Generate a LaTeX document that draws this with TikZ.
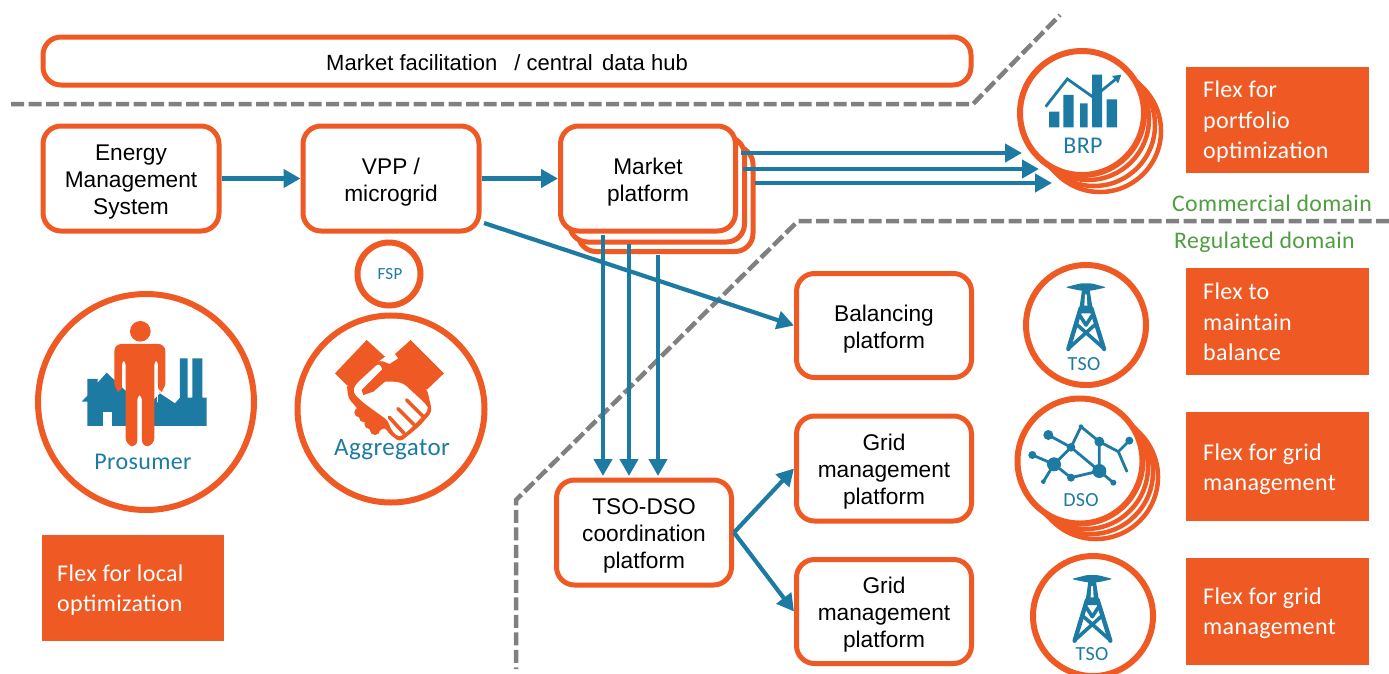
\documentclass[tikz,border=0pt]{standalone}
\usepackage{fontspec}
\setmainfont{Liberation Sans}
\newfontfamily\carl[LetterSpace=1.5]{Carlito}
\usetikzlibrary{arrows.meta}
\definecolor{org}{HTML}{EF5A24}
\definecolor{blu}{HTML}{1D7BA3}
\definecolor{grn}{HTML}{4F9E3F}
\definecolor{gry}{HTML}{808080}
\newcommand{\boxtext}[1]{\vbox{\kern7.6pt\hbox{\begin{tabular}{@{}c@{}}#1\end{tabular}}}}
\tikzset{
  rbox/.style={draw=org,line width=5pt,fill=white,rounded corners=18pt,inner sep=0pt,align=center,
    font=\fontsize{22.7}{27}\selectfont,text=black},
  flexbox/.style={fill=org,inner sep=0pt,text=white},
  flextext/.style={text=white,inner sep=0pt,align=left,anchor=west,font=\carl\fontsize{24}{30.5}\selectfont},
  ring/.style={circle,draw=org,fill=white,line width=6pt,inner sep=0pt},
  backring/.style={ring,line width=4.5pt},
  iconlabel/.style={text=blu,inner sep=0pt,font=\carl\fontsize{#1}{#1}\selectfont},
  domlabel/.style={text=grn,inner sep=0pt,font=\carl\fontsize{23.8}{26}\selectfont},
  divider/.style={draw=gry,line width=4.5pt,dash pattern=on 13pt off 4.5pt},
  flow/.style={draw=blu,line width=4.2pt,-{Triangle[length=17pt,width=18pt]}},
  zoomed/.style={x=0.3333pt,y=-0.3333pt},
}
\newcommand{\tsotower}{%
  \fill[blu,rounded corners=2.5pt] (45,37) -- (92,25) -- (124,25) -- (170,37) -- (124,47) -- (92,47) -- cycle;
  \fill[blu] (96,45) -- (119,45) -- (130,115) -- (86,115) -- cycle;
  \fill[white] (105,58) -- (110,58) -- (112,92) -- (103,92) -- cycle;
  \draw[blu,line width=4.4pt,line cap=round,line join=round]
     (92,100) -- (55,222) (124,100) -- (162,222);
  \draw[blu,line width=3.6pt,line cap=round,line join=round]
     (58,218) -- (134,150) (159,218) -- (82,150) (90,122) -- (108,150) -- (126,122);
}
\begin{document}
\begin{tikzpicture}[x=1pt,y=-1pt]
\useasboundingbox (0,0) rectangle (1389,673);
\fill[white] (0,0) rectangle (1389,673);

% dividers
\coordinate (d1a) at (11,104); \coordinate (d1b) at (973,104); \coordinate (d1c) at (1060,15);
\draw[divider] (d1a) -- (d1b) -- (d1c);
\coordinate (d2a) at (1389,221); \coordinate (d2b) at (798,221); \coordinate (d2c) at (516,500); \coordinate (d2d) at (516,669);
\draw[divider] (d2a) -- (d2b) -- (d2c) -- (d2d);

% boxes
\node[rbox,minimum width=928pt,minimum height=48pt,font=\fontsize{22}{27}\selectfont] (hub) at (507,61)
  {\vbox{\kern2.4pt\hbox{Market facilitation\hspace{0.5em} / central\hspace{0.15em} data hub}}};
\node[rbox,minimum width=176pt,minimum height=105pt] (ems) at (131,178.5) {\boxtext{Energy\\Management\\System}};
\node[rbox,minimum width=176pt,minimum height=105pt] (vpp) at (391,178.5) {\boxtext{VPP /\\microgrid}};
\node[rbox,minimum width=175pt,minimum height=105pt] (mp3) at (665.5,199) {};
\node[rbox,minimum width=175pt,minimum height=105pt] (mp2) at (657,189.5) {};
\node[rbox,minimum width=175pt,minimum height=105pt] (mp) at (648,178.5) {\boxtext{Market\\platform}};
\node[rbox,minimum width=175pt,minimum height=104pt] (bal) at (884,325.5) {\boxtext{Balancing\\platform}};
\node[rbox,minimum width=175pt,minimum height=105pt] (grid1) at (884,468.5) {\boxtext{Grid\\management\\platform}};
\node[rbox,minimum width=175pt,minimum height=104pt] (grid2) at (884,611.5) {\boxtext{Grid\\management\\platform}};
\node[rbox,minimum width=175pt,minimum height=105pt] (tsodso) at (644,532.5) {\boxtext{TSO-DSO\\coordination\\platform}};

% flex boxes
\node[flexbox,minimum width=183pt,minimum height=106pt] (fx1) at (1277.5,120) {};
\node[flextext] (fx1t) at (1203,122) {Flex for\\portfolio\\optimization};
\node[flexbox,minimum width=183pt,minimum height=107pt] (fx2) at (1277.5,321.5) {};
\node[flextext] (fx2t) at (1203,322) {Flex to\\maintain\\balance};
\node[flexbox,minimum width=183pt,minimum height=109pt] (fx3) at (1277.5,466.5) {};
\node[flextext] (fx3t) at (1203,469) {Flex for grid\\management};
\node[flexbox,minimum width=183pt,minimum height=107pt] (fx4) at (1277.5,611.5) {};
\node[flextext] (fx4t) at (1203,613) {Flex for grid\\management};
\node[flexbox,minimum width=182pt,minimum height=106pt] (fx5) at (133,588) {};
\node[flextext] (fx5t) at (57,590) {Flex for local\\optimization};

% domains
\node[domlabel,anchor=west] (comm) at (1172,203) {Commercial domain};
\node[domlabel,anchor=west] (reg) at (1174,242) {Regulated domain};

% rings
\node[ring,minimum size=216pt] (pros) at (146,402) {};
\node[ring,minimum size=187pt] (agg) at (391,409) {};
\node[ring,minimum size=63pt] (fsp) at (389,274) {};
\node[backring,minimum size=122pt] (brp3) at (1100,131) {};
\node[backring,minimum size=122pt] (brp2) at (1094,125) {};
\node[backring,minimum size=122pt] (brp1) at (1088,119) {};
\node[ring,minimum size=124pt] (brp) at (1082,113) {};
\node[ring,minimum size=120pt] (tso1) at (1086,325) {};
\node[backring,minimum size=124pt] (dso3) at (1096,477) {};
\node[backring,minimum size=124pt] (dso2) at (1091,472) {};
\node[backring,minimum size=124pt] (dso1) at (1086,467) {};
\node[ring,minimum size=125pt] (dso) at (1080,461) {};
\node[ring,minimum size=120pt] (tso2) at (1093,616) {};

% BRP icon
\begin{scope}[shift={(980,0)},zoomed]
  \fill[blu] (207,335) rectangle (238,382) (250,285) rectangle (281,382)
             (300,310) rectangle (323,382) (336,224) rectangle (366,382)
             (380,298) rectangle (411,382);
  \draw[blu,line width=2.8pt,-{Triangle[length=8pt,width=9pt]}] (197,320) -- (262,237) -- (340,292) -- (424,224);
\end{scope}

% Prosumer icon
\begin{scope}[shift={(20,230)},zoomed]
  \fill[blu] (202,588) -- (202,515) -- (185,515) -- (202,497) -- (202,447) -- (233,447) -- (233,458)
     -- (260,428) -- (330,495) -- (330,588) -- cycle;
  \fill[white] (250,545) rectangle (277,588);
  \fill[blu] (395,588) -- (395,515) -- (420,490) -- (465,520) -- (480,503) -- (480,385) -- (503,385)
     -- (503,503) -- (517,503) -- (517,385) -- (547,385) -- (547,503) -- (560,503) -- (560,588) -- cycle;
  \fill[org] (361,304) circle[radius=31];
  \draw[white,line width=1.5pt,line cap=round] (412,395) -- (412,515);
  \fill[org,rounded corners=7pt] (283,480) -- (283,342) -- (436,342) -- (436,480) -- (414,490) -- (414,385) -- (403,385)
     -- (403,645) -- (366,652) -- (366,490) -- (352,490) -- (352,652) -- (317,645) -- (317,385) -- (306,385) -- (306,490) -- cycle;
\end{scope}

% Aggregator icon
\begin{scope}[shift={(320,330)},zoomed]
  \fill[org,rounded corners=4pt] (80,160) -- (85,205) -- (112,235) -- (160,318) -- (195,290) -- (205,310) -- (240,336)
     -- (270,312) -- (300,287) -- (336,245) -- (330,215) -- (320,175) -- (250,120) -- (180,90) -- cycle;
  \foreach \kx/\ky in {118/247,132/262,148/282,165/300}
    \fill[org] (\kx,\ky) circle[radius=15];
  \fill[white,rounded corners=4pt] (178,98) -- (105,165) -- (99,188) -- (130,218) -- (205,272) -- (212,297) -- (236,323)
     -- (265,302) -- (326,240) -- (320,225) -- (250,160) -- (200,150) -- cycle;
  \draw[org,line width=3.6pt,line cap=round] (208,262) -- (252,310) (234,236) -- (282,284) (260,210) -- (310,260);
  \fill[org] (45,130) -- (140,30) -- (195,80) -- (175,95) -- (100,163) -- (80,165) -- cycle;
  \fill[org] (272,30) -- (372,130) -- (322,178) -- (250,155) -- (195,155) -- (160,185) -- (130,195) -- (125,180)
     -- (195,110) -- (215,98) -- (235,85) -- (225,72) -- cycle;
\end{scope}

% Tower icons
\begin{scope}[shift={(1050,275)},zoomed] \tsotower \end{scope}
\begin{scope}[shift={(1056.3,566.7)},zoomed] \tsotower \end{scope}

% DSO icon
\begin{scope}[shift={(1000,255)},zoomed]
  \draw[blu,line width=2.8pt,line join=round]
    (145,540) -- (213,577) -- (243,515) -- (298,560) -- (355,590) -- (380,648)
    (355,590) -- (388,557) (298,560) -- (298,648) -- (213,577) -- (162,628) -- (97,600)
    (162,628) -- (130,680) (162,628) -- (213,668) -- (298,648) -- (340,683);
  \foreach \px/\py/\pr in {145/540/15,97/600/12,162/628/21,130/680/7,213/577/13,243/515/7,298/560/15,
     388/557/12,380/648/5,298/648/21,213/668/12,340/683/9}
    \fill[blu] (\px,\py) circle[radius=\pr];
\end{scope}

% icon labels
\node[iconlabel=24] (brpl) at (1083,146) {BRP};
\node[iconlabel=20] (tso1l) at (1084,364) {TSO};
\node[iconlabel=20] (dsol) at (1081,500) {DSO};
\node[iconlabel=20] (tso2l) at (1092,654) {TSO};
\node[iconlabel=17] (fspl) at (390,274) {FSP};
\node[iconlabel=24] (prosl) at (143,462) {Prosumer};
\node[iconlabel=25] (aggl) at (392,450) {Aggregator};

% connector ends
\coordinate (ma) at (741,153); \coordinate (mb) at (743,169); \coordinate (mc) at (755,183);
\coordinate (ba) at (1022,153); \coordinate (bb) at (1039,169); \coordinate (bc) at (1052,183);
\coordinate (da) at (603,235); \coordinate (db) at (629,244); \coordinate (dc) at (658,255);
\coordinate (ta) at (603,476); \coordinate (tb) at (629,476); \coordinate (tc) at (658,476);
\coordinate (vs) at (484,223);

\draw[flow] (ems.east) -- (vpp.west);
\draw[flow] (vpp.east) -- (mp.west);
\draw[flow] (ma) -- (ba);
\draw[flow] (mb) -- (bb);
\draw[flow] (mc) -- (bc);
\draw[flow] (da) -- (ta);
\draw[flow] (db) -- (tb);
\draw[flow] (dc) -- (tc);
\draw[flow] (vs) -- (bal.west);
\draw[flow] (tsodso.east) -- (grid1.west);
\draw[flow] (tsodso.east) -- (grid2.west);
\end{tikzpicture}
\end{document}
